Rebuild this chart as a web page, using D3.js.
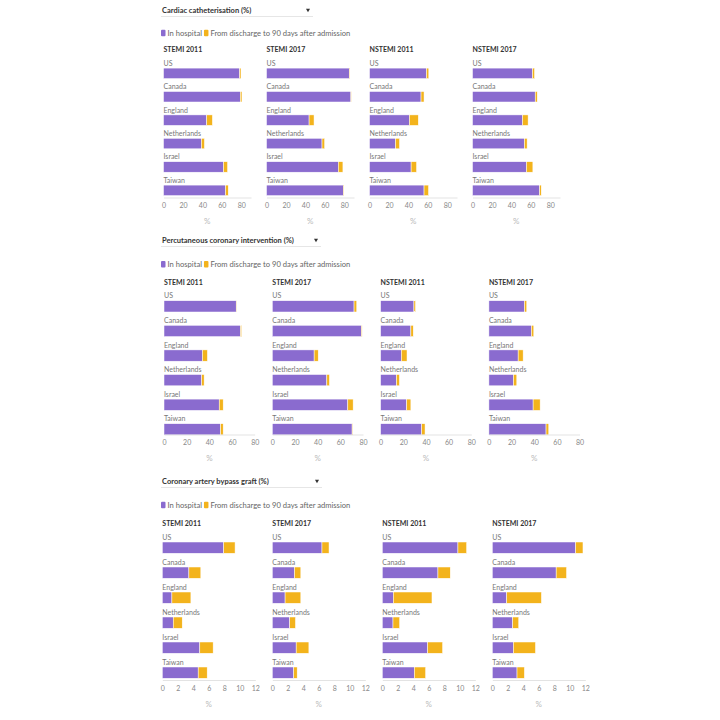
<!DOCTYPE html>
<html>
<head>
<meta charset="utf-8">
<script src="https://cdn.jsdelivr.net/npm/d3@7"></script>
<style>
  body { margin: 0; background: #fff; }
  text { font-family: "Source Sans Pro", Lato, "Open Sans", sans-serif; }
</style>
</head>
<body>
<div id="main"></div>
<script>
// categories and panels
const countries = ['US', 'Canada', 'England', 'Netherlands', 'Israel', 'Taiwan'];
const panels = ['STEMI 2011', 'STEMI 2017', 'NSTEMI 2011', 'NSTEMI 2017'];
const seriesNames = ['In hospital', 'From discharge to 90 days after admission'];
const sectionTitles = ['Cardiac catheterisation (%)', 'Percutaneous coronary intervention (%)', 'Coronary artery bypass graft (%)'];

// cardiac catheterisation: one row per panel, one value per country
const cathHospital = [
    [78.3, 79.0, 44.5, 39.0, 61.7, 63.8],
    [85.1, 86.8, 43.8, 57.1, 73.8, 79.0],
    [58.6, 53.0, 41.0, 26.7, 42.8, 56.1],
    [61.7, 64.5, 51.4, 53.4, 55.5, 69.0]
];
const cathAfter = [
    [1.4, 1.7, 5.8, 3.1, 4.2, 2.8],
    [0.7, 0.4, 5.1, 2.7, 4.8, 0.7],
    [2.4, 3.1, 9.2, 4.2, 5.6, 4.6],
    [2.1, 2.1, 5.8, 2.8, 6.6, 1.7]
];

// percutaneous coronary intervention
const pciHospital = [
    [63.7, 67.5, 33.9, 33.3, 48.7, 49.9],
    [72.1, 78.6, 36.9, 48.1, 66.6, 70.4],
    [29.4, 26.7, 18.3, 14.0, 23.0, 36.3],
    [31.4, 37.5, 25.8, 21.7, 39.0, 50.4]
];
const pciAfter = [
    [0.3, 0.9, 4.4, 2.1, 3.5, 2.3],
    [2.4, 0.6, 3.6, 2.3, 4.7, 0.6],
    [1.4, 2.1, 5.0, 2.6, 3.7, 2.9],
    [2.0, 2.1, 4.4, 2.9, 6.2, 2.4]
];

// coronary artery bypass graft
const cabgHospital = [
    [7.93, 3.43, 1.24, 1.41, 4.84, 4.63],
    [6.41, 2.86, 1.65, 2.25, 3.08, 2.77],
    [9.76, 7.18, 1.42, 1.38, 5.85, 4.13],
    [10.75, 8.24, 1.86, 2.63, 2.72, 3.19]
];
const cabgAfter = [
    [1.46, 1.54, 2.45, 1.16, 1.72, 1.16],
    [0.91, 0.82, 2.03, 0.74, 1.64, 0.44],
    [1.12, 1.59, 4.99, 0.86, 1.93, 1.46],
    [0.95, 1.34, 4.48, 0.78, 2.85, 0.95]
];

// axis domains and ticks per section
const domainMax = [90, 80, 12];
const tickValues = [[0, 20, 40, 60, 80], [0, 20, 40, 60, 80], [0, 2, 4, 6, 8, 10, 12]];

const colors = ['#8a6bcf', '#f3b31c'];

// layout for each section
const layout = [
    { top: 10, legendY: 33, titleY: 50, label0: 63.3, rowStep: 23.4, barOff: 4.8, barH: 10.5, axisY: 197.5, x0: 163.5, step: 103, panelW: 87.5, lineEnd: 313 },
    { top: 240, legendY: 264.3, titleY: 282.3, label0: 296, rowStep: 24.6, barOff: 4.7, barH: 11.3, axisY: 434.5, x0: 164, step: 108.3, panelW: 90.7, lineEnd: 321 },
    { top: 481, legendY: 505, titleY: 523.3, label0: 537.3, rowStep: 25, barOff: 4.7, barH: 11.3, axisY: 680, x0: 162.3, step: 110, panelW: 93, lineEnd: 322 }
];

const sectionData = [
    [cathHospital, cathAfter],
    [pciHospital, pciAfter],
    [cabgHospital, cabgAfter]
];

const width = 720, height = 720;

let svg = d3.select('#main')
    .append('svg')
        .attr('width', width)
        .attr('height', height);

sectionData.forEach(function(sec, s) {
    const L = layout[s];
    const g = svg.append('g');

    // dropdown style title
    g.append('text')
        .attr('x', 162)
        .attr('y', L.top)
        .attr('dy', '0.35em')
        .style('font-size', '7.5px')
        .style('font-weight', 700)
        .style('fill', '#333')
        .text(sectionTitles[s]);
    g.append('line')
        .attr('x1', 161).attr('x2', L.lineEnd)
        .attr('y1', L.top + 6.5).attr('y2', L.top + 6.5)
        .style('stroke', '#e6e6e6')
        .style('stroke-width', 1.2);
    g.append('path')
        .attr('d', d3.symbol().type(d3.symbolTriangle).size(7))
        .attr('transform', `translate(${L.lineEnd - 5},${L.top}) rotate(180)`)
        .style('fill', '#333');

    // legend
    let lx = 161;
    seriesNames.forEach(function(name, i) {
        g.append('rect')
            .attr('x', lx).attr('y', L.legendY - 3.3)
            .attr('width', 4.5).attr('height', 6.6)
            .attr('rx', 1)
            .style('fill', colors[i]);
        const t = g.append('text')
            .attr('x', lx + 6.5)
            .attr('y', L.legendY)
            .attr('dy', '0.35em')
            .style('font-size', '7.6px')
            .style('fill', '#666')
            .text(name);
        lx += 6.5 + t.node().getComputedTextLength() + 2;
    });

    const x = d3.scaleLinear().domain([0, domainMax[s]]).range([0, L.panelW]);
    const y = d3.scaleBand().domain(countries).range([L.label0, L.label0 + L.rowStep * countries.length]);

    panels.forEach(function(panel, p) {
        const pg = g.append('g').attr('transform', `translate(${L.x0 + p * L.step},0)`);

        pg.append('text')
            .attr('x', 0)
            .attr('y', L.titleY)
            .attr('dy', '0.35em')
            .style('font-size', '7px')
            .style('font-weight', 700)
            .style('fill', '#333')
            .text(panel);

        const rows = countries.map((c, i) => ({ country: c, a: sec[0][p][i], b: sec[1][p][i] }));

        pg.selectAll('.cat')
            .data(rows)
            .enter()
            .append('text')
                .attr('class', 'cat')
                .attr('x', 0)
                .attr('y', d => y(d.country))
                .attr('dy', '0.35em')
                .style('font-size', '7px')
                .style('fill', '#777')
                .text(d => d.country);

        pg.selectAll('.bar-a')
            .data(rows)
            .enter()
            .append('rect')
                .attr('x', x(0))
                .attr('y', d => y(d.country) + L.barOff)
                .attr('width', d => x(d.a))
                .attr('height', L.barH)
                .style('fill', colors[0])
                .style('stroke', '#fff')
                .style('stroke-width', 0.5);

        pg.selectAll('.bar-b')
            .data(rows)
            .enter()
            .append('rect')
                .attr('x', d => x(d.a))
                .attr('y', d => y(d.country) + L.barOff)
                .attr('width', d => x(d.b))
                .attr('height', L.barH)
                .style('fill', colors[1])
                .style('stroke', '#fff')
                .style('stroke-width', 0.5);

        const axis = pg.append('g')
            .attr('transform', `translate(0,${L.axisY})`)
            .call(d3.axisBottom(x).tickValues(tickValues[s]).tickSize(0).tickPadding(6));
        axis.select('.domain').style('stroke', '#e3e3e3');
        axis.selectAll('text')
            .style('font-size', '7px')
            .style('font-family', '"Source Sans Pro", Lato, sans-serif')
            .style('fill', '#888');

        pg.append('text')
            .attr('x', L.panelW / 2)
            .attr('y', L.axisY + 24)
            .attr('dy', '0.35em')
            .attr('text-anchor', 'middle')
            .style('font-size', '8px')
            .style('fill', '#bbb')
            .text('%');
    });
});
</script>
</body>
</html>
